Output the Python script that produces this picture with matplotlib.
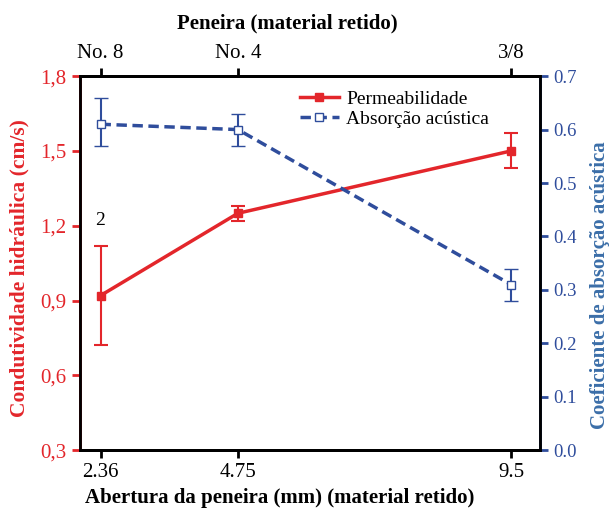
# Hydraulic conductivity and sound absorption vs sieve opening
import matplotlib.pyplot as plt
from matplotlib.lines import Line2D

plt.rcParams["font.family"] = ["Liberation Serif", "DejaVu Serif"]

abertura = [2.36, 4.75, 9.5]
peneira = ["No. 8", "No. 4", "3/8"]

permeabilidade = [0.92, 1.25, 1.50]
perm_err_low = [0.20, 0.03, 0.07]
perm_err_high = [0.20, 0.03, 0.07]

absorcao = [0.61, 0.60, 0.31]
abs_err_low = [0.04, 0.03, 0.03]
abs_err_high = [0.05, 0.03, 0.03]

red = "#e3262b"
blue = "#2f4d9c"

fig = plt.figure(figsize=(6.14, 5.11), dpi=100)
ax = fig.add_axes([0.130, 0.119, 0.749, 0.732])
ax2 = ax.twinx()
ax3 = ax.twiny()

ax.errorbar(abertura, permeabilidade, yerr=[perm_err_low, perm_err_high],
            color=red, lw=2.5, marker="s", ms=6, mfc=red, mec=red,
            elinewidth=1.5, capsize=5, capthick=1.5)
ax2.errorbar(abertura, absorcao, yerr=[abs_err_low, abs_err_high],
             color=blue, lw=2.5, ls=(0, (3, 1.6)), marker="s", ms=5.5,
             mfc="white", mec=blue, mew=1, elinewidth=1.5, capsize=5,
             capthick=1.5)

ax.text(2.36, 1.22, "2", ha="center", va="center", fontsize=14)

ax.set_xlim(2.0, 10.0)
ax.set_ylim(0.3, 1.8)
ax.set_yticks([0.3, 0.6, 0.9, 1.2, 1.5, 1.8])
ax.set_yticklabels(["0,3", "0,6", "0,9", "1,2", "1,5", "1,8"])
ax.set_xticks(abertura)
ax.set_xticklabels(["2.36", "4.75", "9.5"])
ax2.set_ylim(0.0, 0.7)
ax2.set_yticks([0.0, 0.1, 0.2, 0.3, 0.4, 0.5, 0.6, 0.7])
ax3.set_xlim(ax.get_xlim())
ax3.set_xticks(abertura)
ax3.set_xticklabels(peneira)

ax.set_xlabel("Abertura da peneira (mm) (material retido)", fontsize=15,
              fontweight="bold")
ax3.set_xlabel("Peneira (material retido)", fontsize=15, fontweight="bold")
ax.set_ylabel("Condutividade hidráulica (cm/s)", fontsize=15.5,
              fontweight="bold", color=red)
ax2.set_ylabel("Coeficiente de absorção acústica", fontsize=15,
               fontweight="bold", color="#3b6ea8")
ax.xaxis.set_label_coords(0.435, -0.102)
ax3.xaxis.set_label_coords(0.451, 1.128)
ax.yaxis.set_label_coords(-0.109, 0.487)
ax2.yaxis.set_label_coords(1.109, 0.44)

for a in (ax, ax2, ax3):
    for s in a.spines.values():
        s.set_linewidth(2)
ax2.spines["left"].set_color(red)
ax2.spines["right"].set_color(blue)

ax.tick_params(axis="y", colors=red, labelsize=15, width=2, length=6)
ax.tick_params(axis="x", labelsize=15, width=2, length=6)
ax2.tick_params(axis="y", colors=blue, labelsize=13.5, width=2, length=6)
ax3.tick_params(axis="x", labelsize=15, width=2, length=6)

handles = [
    Line2D([], [], color=red, lw=2.5, marker="s", ms=6, mfc=red, mec=red),
    Line2D([], [], color=blue, lw=2.5, ls=(0, (3, 1.6)), marker="s", ms=5.5,
           mfc="white", mec=blue, mew=1),
]
ax.legend(handles, ["Permeabilidade", "Absorção acústica"],
          loc="upper left", bbox_to_anchor=(0.44, 1.01), frameon=False,
          fontsize=14, handlelength=2.0, handletextpad=0.4, labelspacing=0.15)

fig.savefig("out.png", dpi=100)
